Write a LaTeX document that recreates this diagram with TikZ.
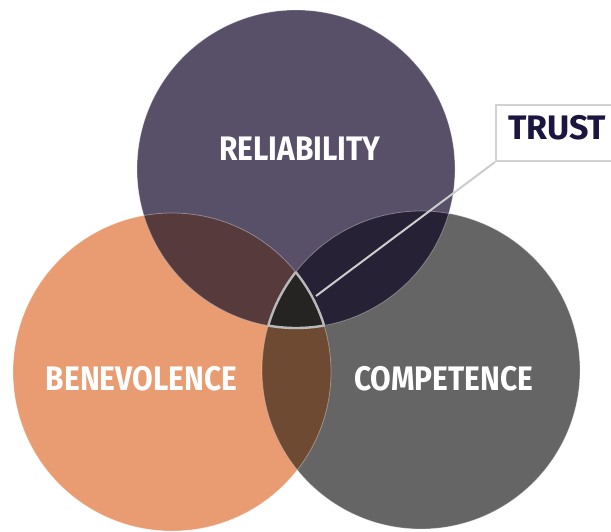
\documentclass[tikz,border=0pt]{standalone}
\usepackage{fontspec}
\newfontfamily\lblfont[FakeStretch=0.88]{Fira Sans}
\newfontfamily\callfont{Fira Sans}
\usepackage{tikz}
\usetikzlibrary{positioning}

\definecolor{relcol}{HTML}{575068}
\definecolor{bencol}{HTML}{E99C71}
\definecolor{comcol}{HTML}{656565}
\definecolor{rbcol}{HTML}{573A3C}
\definecolor{rccol}{HTML}{272135}
\definecolor{bccol}{HTML}{6E4A33}
\definecolor{trustcol}{HTML}{262323}
\definecolor{inkcol}{HTML}{1B1640}

\begin{document}
\begin{tikzpicture}[x=1pt,y=-1pt,
			set node/.style={circle,minimum size=318pt,inner sep=0pt},
			set label/.style={text=white,font=\lblfont\bfseries\fontsize{34}{34}\selectfont},
			edge line/.style={white,opacity=0.35,line width=0.8pt},
			trust edge/.style={draw=gray!55,line width=2.4pt},
			callout box/.style={draw=gray!35,line width=2pt,fill=white,minimum width=150pt,minimum height=56pt,inner sep=0pt,anchor=north west}
			]

			\def \r {159};

			\useasboundingbox (0,0) rectangle (611,531);

			% the three sets
			\node[set node,fill=bencol] (ben) at (172,372) {};
			\node[set node,fill=comcol] (com) at (421,370) {};
			\node[set node,fill=relcol] (rel) at (296,169) {};

			% pairwise overlaps
			\begin{scope}
				\clip (rel.center) circle (\r);
				\fill[rbcol] (ben.center) circle (\r);
				\fill[rccol] (com.center) circle (\r);
			\end{scope}
			\begin{scope}
				\clip (ben.center) circle (\r);
				\fill[bccol] (com.center) circle (\r);
			\end{scope}
			\begin{scope}
				\clip (rel.center) circle (\r);
				\clip (ben.center) circle (\r);
				\fill[trustcol] (com.center) circle (\r);
			\end{scope}

			% faint rims
			\draw[edge line] (rel.center) circle (\r);
			\draw[edge line] (ben.center) circle (\r);
			\draw[edge line] (com.center) circle (\r);

			% rim of the middle part
			\begin{scope}
				\clip (rel.center) circle (\r);
				\clip (ben.center) circle (\r);
				\draw[trust edge] (com.center) circle (\r);
			\end{scope}
			\begin{scope}
				\clip (rel.center) circle (\r);
				\clip (com.center) circle (\r);
				\draw[trust edge] (ben.center) circle (\r);
			\end{scope}
			\begin{scope}
				\clip (ben.center) circle (\r);
				\clip (com.center) circle (\r);
				\draw[trust edge] (rel.center) circle (\r);
			\end{scope}

			\node[set label] at (300,148.5) (relLabel) {RELIABILITY};
			\node[set label] at (141.5,378.5) (benLabel) {BENEVOLENCE};
			\node[set label] at (443.5,378.5) (comLabel) {COMPETENCE};

			% callout
			\coordinate (mid) at (316,296);
			\node[callout box] at (495,104) (trust) {};
			\node[text=inkcol,font=\callfont\bfseries\fontsize{34}{34}\selectfont,anchor=west,inner sep=0pt] at (508,128) (trustLabel) {TRUST};
			\draw[trust edge,draw=gray!40,line width=2pt] (trust.south west) -- (mid);
		\end{tikzpicture}
\end{document}
